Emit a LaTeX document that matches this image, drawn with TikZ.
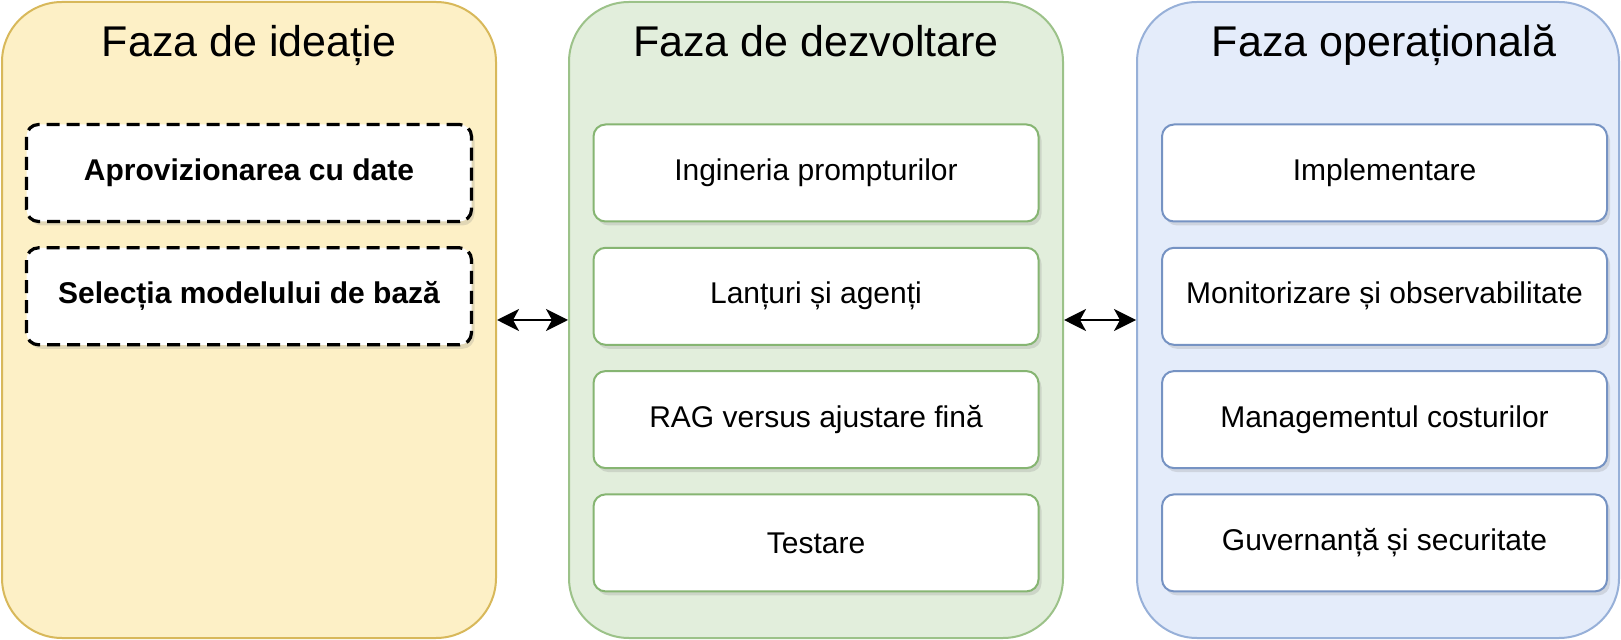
\documentclass[tikz,border=0pt]{standalone}
\usepackage{fontspec}
\setmainfont{Liberation Sans}
\usetikzlibrary{arrows.meta,shadows}
\definecolor{ideafill}{HTML}{FDF0C6}
\definecolor{ideadraw}{HTML}{D8B85A}
\definecolor{devfill}{HTML}{E2EEDC}
\definecolor{devdraw}{HTML}{9CC289}
\definecolor{devbox}{HTML}{86B572}
\definecolor{opfill}{HTML}{E4ECFA}
\definecolor{opdraw}{HTML}{97B0D8}
\definecolor{opbox}{HTML}{7693C3}
\begin{document}
\begin{tikzpicture}[x=0.5pt, y=-0.5pt,
    phase/.style={draw, line width=1pt, rounded corners=30pt, minimum width=247pt, minimum height=318pt, inner sep=0pt},
    phasetitle/.style={anchor=base, font=\fontsize{21.5}{26}\selectfont},
    task/.style={draw, line width=1pt, rounded corners=6pt, fill=white, minimum width=222.5pt, minimum height=48.5pt, inner sep=0pt,
        font=\fontsize{15}{18}\selectfont, drop shadow={opacity=0.22, shadow xshift=1.5pt, shadow yshift=-2pt}},
    ideabox/.style={task, draw=black, line width=1.6pt, dash pattern=on 6.5pt off 3.5pt, font=\fontsize{15}{18}\selectfont\bfseries},
    link/.style={{Stealth[length=11pt,width=11pt,inset=3pt]}-{Stealth[length=11pt,width=11pt,inset=3pt]}, line width=1.1pt}]
    \useasboundingbox (0,0) rectangle (1621,640);

    % phases
    \node[phase, fill=ideafill, draw=ideadraw] (ideatie) at (249,320) {};
    \node[phase, fill=devfill, draw=devdraw] (dezvoltare) at (816,320) {};
    \node[phase, fill=opfill, draw=opdraw, minimum width=241pt] (operare) at (1378,320) {};

    \node[phasetitle] (tideatie) at (249,57) {Faza de ideație};
    \node[phasetitle] (tdezvoltare) at (816,57) {Faza de dezvoltare};
    \node[phasetitle] (toperare) at (1384,57) {Faza operațională};

    % tasks
    \foreach \t [count=\i] in {Aprovizionarea cu date, Selecția modelului de bază} {
        \pgfmathsetmacro{\yy}{173+123.3*(\i-1)}
        \node[ideabox] (idea\i) at (249,\yy) {\t};
    }
    \foreach \t [count=\i] in {Ingineria prompturilor, Lanțuri și agenți, RAG versus ajustare fină, Testare} {
        \pgfmathsetmacro{\yy}{173+123.3*(\i-1)}
        \node[task, draw=devbox] (dev\i) at (816,\yy) {\t};
    }
    \foreach \t [count=\i] in {Implementare, Monitorizare și observabilitate, Managementul costurilor, Guvernanță și securitate} {
        \pgfmathsetmacro{\yy}{173+123.3*(\i-1)}
        \node[task, draw=opbox] (op\i) at (1384.5,\yy) {\t};
    }

    \draw[link] (ideatie.east) -- (dezvoltare.west);
    \draw[link] (dezvoltare.east) -- (operare.west);
\end{tikzpicture}
\end{document}
